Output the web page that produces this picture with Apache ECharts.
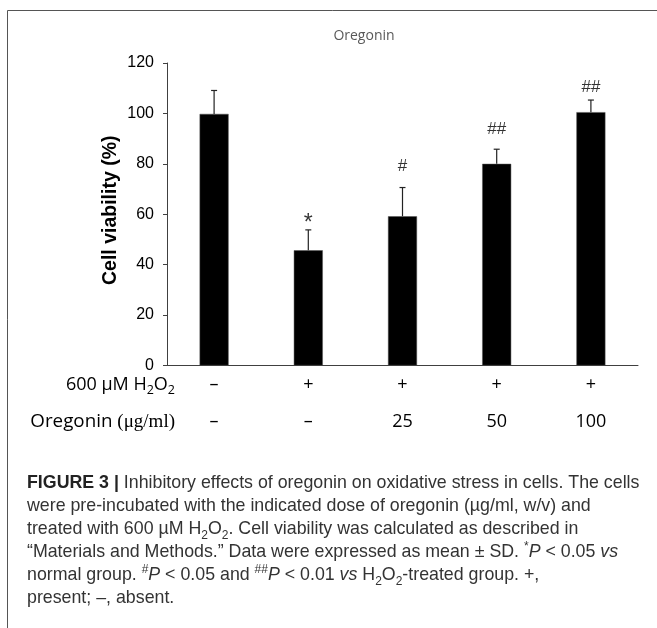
<!DOCTYPE html>
<html><head><meta charset="utf-8">
<script src="https://cdn.jsdelivr.net/npm/echarts@6/dist/echarts.min.js"></script>
<style>html,body{margin:0;padding:0;background:#fff}#c{width:657px;height:628px}</style>
</head><body><div id="c"></div>
<script>
// ---- data ----
const categories = ['G1', 'G2', 'G3', 'G4', 'G5'];
const h2o2Row = ['–', '+', '+', '+', '+'];
const oregoninRow = ['–', '–', '25', '50', '100'];
const viability = [99.8, 45.7, 59.2, 80.0, 100.5];
const sd = [9.3, 8.1, 11.4, 5.8, 4.8];
const sigMarks = ['', '*', '#', '##', '##'];
const sigMarkY = [null, 57.7, 79.1, 93.8, 110.2];
const yTicks = [0, 20, 40, 60, 80, 100, 120];

const chart = echarts.init(document.getElementById('c'), null, {renderer: 'canvas'});
const axisCol = '#404040';
const capFont = 'Liberation Sans, Arial, sans-serif';
const capCol = '#333';

const capLines = [
  '{b|FIGURE 3 |} Inhibitory effects of oregonin on oxidative stress in cells. The cells',
  'were pre-incubated with the indicated dose of oregonin (µg/ml, w/v) and',
  'treated with 600 µM H{sub|2}O{sub|2}. Cell viability was calculated as described in',
  '“Materials and Methods.” Data were expressed as mean ± SD. {sup|*}{i|P} < 0.05 {i|vs}',
  'normal group. {sup|#}{i|P} < 0.05 and {sup|##}{i|P} < 0.01 {i|vs} H{sub|2}O{sub|2}-treated group. +,',
  'present; –, absent.'
];
const capY = [483, 506, 529.5, 552.5, 575.5, 598.5];
const capSize = 17.8;
const capRich = {
  b: {fontSize: capSize, lineHeight: 24, fontFamily: capFont, fontWeight: 'bold', fill: '#222'},
  i: {fontSize: capSize, lineHeight: 24, fontFamily: capFont, fontStyle: 'italic', fill: capCol},
  sub: {fontSize: 12, lineHeight: 15, verticalAlign: 'bottom', fontFamily: capFont, fill: capCol},
  sup: {fontSize: 12, lineHeight: 15, verticalAlign: 'top', fontFamily: capFont, fill: capCol}
};
const graphics = [
  {type: 'rect', shape: {x: 7.5, y: 10.5, width: 700, height: 700}, style: {fill: 'none', stroke: '#555', lineWidth: 1}, silent: true},
  {type: 'text', x: 364, y: 36, style: {text: 'Oregonin', font: '14px "Open Sans", sans-serif', fill: '#595959', align: 'center', verticalAlign: 'middle'}},
  {type: 'text', x: 175, y: 385, style: {
    text: '600 μM H{sub|2}O{sub|2}', align: 'right', verticalAlign: 'middle',
    font: '18px "Open Sans", sans-serif', fill: '#000',
    rich: {
      sub: {fontSize: 12.5, lineHeight: 17, verticalAlign: 'bottom', fontFamily: '"Open Sans", sans-serif', fill: '#000'}
    },
    lineHeight: 24
  }},
  {type: 'text', x: 175, y: 422, style: {
    text: 'Oregonin {s|(μg/ml)}', align: 'right', verticalAlign: 'middle',
    font: '18.8px "Open Sans", sans-serif', fill: '#000', lineHeight: 24,
    rich: {s: {fontSize: 19, fontFamily: '"Liberation Serif", serif', fill: '#000', lineHeight: 24}}
  }}
];
capLines.forEach((t, k) => {
  graphics.push({type: 'text', x: 27, y: capY[k], style: {
    text: t, align: 'left', verticalAlign: 'middle',
    font: capSize + 'px ' + capFont, fill: capCol, lineHeight: 24, rich: capRich
  }});
});

const option = {
  animation: false,
  backgroundColor: '#fff',
  grid: {left: 167, right: 19, top: 63, bottom: 262.5, containLabel: false},
  xAxis: {
    type: 'category', data: categories,
    axisLine: {show: true, lineStyle: {color: axisCol, width: 1}},
    axisTick: {show: false},
    axisLabel: {
      interval: 0, margin: 1,
      formatter: (v, idx) => '{a|' + h2o2Row[idx] + '}\n{a|' + oregoninRow[idx] + '}',
      rich: {a: {fontSize: 18, lineHeight: 37, fontFamily: '"Open Sans", sans-serif', color: '#000'}}
    }
  },
  yAxis: {
    type: 'value', min: 0, max: 120, interval: 20,
    name: 'Cell viability (%)', nameLocation: 'middle', nameGap: 46, nameRotate: 90,
    nameMoveOverlap: false,
    nameTextStyle: {fontSize: 19.5, fontWeight: 'bold', fontFamily: 'Liberation Sans, Arial, sans-serif', color: '#000', padding: [0, 0, 0, 8]},
    axisLine: {show: true, lineStyle: {color: axisCol, width: 1}},
    axisTick: {show: true, length: 4, inside: false, lineStyle: {color: axisCol}},
    splitLine: {show: false},
    axisLabel: {
      margin: 13, fontSize: 16, color: '#000', fontFamily: 'Liberation Sans, Arial, sans-serif',
      formatter: v => yTicks.indexOf(v) >= 0 ? String(v) : ''
    }
  },
  series: [
    {
      type: 'bar', data: viability, barWidth: 29,
      itemStyle: {color: '#000', borderColor: '#555', borderWidth: 0.5}
    },
    {
      type: 'custom',
      data: viability.map((v, k) => [k, v, v + sd[k]]),
      renderItem: (params, api) => {
        const base = api.coord([api.value(0), api.value(1)]);
        const top = api.coord([api.value(0), api.value(2)]);
        return {type: 'group', children: [
          {type: 'line', shape: {x1: base[0], y1: base[1], x2: top[0], y2: top[1]}, style: {stroke: '#222', lineWidth: 1.2}},
          {type: 'line', shape: {x1: top[0] - 3, y1: top[1], x2: top[0] + 3, y2: top[1]}, style: {stroke: '#222', lineWidth: 1.2}}
        ]};
      },
      z: 3
    },
    {
      type: 'scatter', symbolSize: 0,
      data: sigMarkY.map((y, k) => y === null ? [k, null] : {value: [k, y], name: sigMarks[k]}),
      label: {
        show: true, position: 'inside',
        formatter: p => p.name === '*' ? '{st|*}' : (p.name || ''),
        fontSize: 17, color: '#000', fontFamily: 'Liberation Sans, Arial, sans-serif',
        rich: {st: {fontSize: 23, padding: [8, 0, 0, 0], color: '#000', fontFamily: 'Liberation Sans, Arial, sans-serif'}}
      },
      z: 4
    }
  ],
  graphic: graphics
};
chart.setOption(option);
</script>
</body></html>
